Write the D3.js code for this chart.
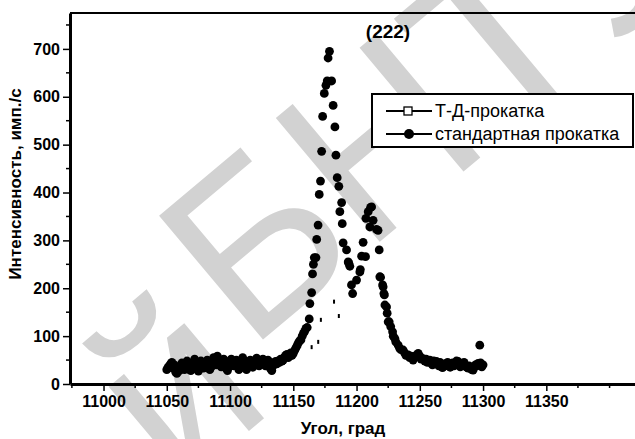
<!DOCTYPE html>
<html>
<head>
<meta charset="utf-8">
<script src="https://cdn.jsdelivr.net/npm/d3@7.9.0/dist/d3.min.js"></script>
<style>
  html, body { margin: 0; padding: 0; background: #fff; }
  svg { display: block; font-family: "Liberation Sans", Arial, sans-serif; }
</style>
</head>
<body>
<svg id="chart" width="635" height="439"></svg>
<script>
// standard rolling (filled circles)
const stdAngle = [
  11050,11051,11052,11053,11054,11055,11056,11057,11058,11059,
  11060,11061,11062,11063,11064,11065,11066,11067,11068,11069,
  11070,11071,11072,11073,11074,11075,11076,11077,11078,11079,
  11080,11081,11082,11083,11084,11085,11086,11087,11088,11089,
  11090,11091,11092,11093,11094,11095,11096,11097,11098,11099,
  11100,11101,11102,11103,11104,11105,11106,11107,11108,11109,
  11110,11111,11112,11113,11114,11115,11116,11117,11118,11119,
  11120,11121,11122,11123,11124,11125,11126,11127,11128,11129,
  11130,11131,11132,11133,11134,11135,11136,11137,11138,11139,
  11140,11141,11142,11143,11144,11145,11146,11147,11148,11149,
  11150,11151,11152,11153,11154,11155,11156,11157,11158,11159,
  11160,11161,11162.6,11163.1,11164.5,11165.2,11165.9,11166.6,11167.9,11168.5,
  11169.6,11170.5,11171.5,11172.4,11173.2,11174.5,11175.8,11176.8,11177.5,11178.6,
  11180.3,11181.5,11182.9,11183.7,11184.7,11186,11186.8,11188.2,11188.7,11189.4,
  11192.1,11193.4,11193.9,11194.7,11196,11196.9,11200,11202.6,11203,11204,
  11205.2,11207.1,11207.4,11209.2,11210.5,11211.1,11211.9,11213.1,11215.8,11217,
  11217.9,11218.4,11219,11220.6,11221,11221.6,11222,11222.4,11223.7,11224.2,
  11225,11225.8,11227,11228.5,11229,11230.3,11231,11232.9,11234,11235,
  11236.8,11238,11239,11240.8,11242,11243,11244.7,11246,11247,11248.7,
  11250,11251,11252.6,11254,11255,11256,11257.9,11259,11260,11261,
  11263.2,11264,11265,11266,11267.2,11268,11269,11270,11271.1,11272,
  11273,11274,11275.1,11276,11277,11278,11279,11280.3,11281,11282,
  11283,11284.2,11285,11286,11287,11288.2,11289,11290,11291,11292.1,
  11293,11294,11295,11296.1,11297.4,11298,11299,11300
];
const stdIntensity = [
  30,35,38,42,45,33,40,25,22,30,
  28,38,44,35,30,42,48,36,30,28,
  34,45,52,40,30,27,35,48,42,33,
  36,44,50,38,30,35,46,55,48,40,
  58,50,42,36,44,52,40,32,28,36,
  48,52,45,38,42,50,40,30,34,45,
  55,48,38,30,36,44,50,42,35,40,
  48,54,46,38,42,50,52,45,38,44,
  50,40,32,28,38,45,47,42,48,45,
  52,48,50,56,60,62,55,58,65,60,
  64,70,75,80,86,90,92,100,106,110,
  116,118,136,168,191,230,250,264,264,302,
  332,396,424,486,559,607,624,633,681,695,
  633,582,537,478,431,413,360,379,335,295,
  280,255,252,246,207,189,217,234,239,267,
  296,266,346,360,328,369,370,342,323,321,
  280,224,223,207,203,189,186,165,161,148,
  130,130,120,109,100,95,88,81,75,72,
  71,65,60,61,55,58,50,55,60,64,
  58,52,53,48,52,45,50,44,40,48,
  47,42,38,45,36,34,40,38,43,45,
  38,35,40,44,38,42,48,47,42,36,
  40,40,45,38,35,33,38,34,30,29,
  35,40,38,43,81,44,36,40
];
// T-D rolling (open squares, mostly hidden)
const tdAngle = [11164.5, 11169.7, 11171.8, 11182.2, 11186];
const tdIntensity = [77, 88, 134, 172, 142];

const xTicks = [11000, 11050, 11100, 11150, 11200, 11250, 11300, 11350];
const yTicks = [0, 100, 200, 300, 400, 500, 600, 700];
const legendLabels = ['Т-Д-прокатка', 'стандартная прокатка'];
const watermark = ['й', 'Б', 'Н', 'Т', 'У'];

const svg = d3.select('#chart');
const pl = 70, pr = 645, pt = 13, pb = 384;

const x = d3.scaleLinear().domain([10973.5, 11428]).range([pl, pr]);
const y = d3.scaleLinear().domain([0, 775]).range([pb, pt]);

// watermark behind everything
const wm = svg.append('g').attr('transform', 'translate(255,240) rotate(-40)');
const wmPos = [-157, 0, 160, 315, 470];
watermark.forEach((ch, i) => {
  wm.append('text').attr('x', wmPos[i]).attr('y', i === 0 ? 61 : 0)
    .attr('text-anchor', 'middle').attr('dominant-baseline', 'central')
    .attr('font-size', 235).attr('fill', '#d2d2d2').text(ch);
});

// frame top line
svg.append('line').attr('x1', pl).attr('x2', pr).attr('y1', pt).attr('y2', pt)
  .attr('stroke', '#000').attr('stroke-width', 2);

// x axis
const minorX = d3.range(10975, 11426, 25).filter(v => !xTicks.includes(v));
const gx = svg.append('g').attr('transform', `translate(0,${pb})`);
gx.selectAll('line.minor').data(minorX).join('line')
  .attr('x1', d => x(d)).attr('x2', d => x(d)).attr('y1', 0).attr('y2', 4)
  .attr('stroke', '#000').attr('stroke-width', 1.5);
gx.call(d3.axisBottom(x).tickValues(xTicks).tickSize(7).tickSizeOuter(0).tickPadding(5).tickFormat(d3.format('d')));
gx.select('.domain').attr('stroke-width', 3);
gx.selectAll('.tick line').attr('stroke-width', 1.5);
gx.selectAll('.tick text').attr('font-size', 16).attr('font-weight', 'bold')
  .attr('font-family', '"Liberation Sans", Arial, sans-serif').attr('fill', '#000');

// y axis
const minorY = d3.range(50, 775, 100);
const gy = svg.append('g').attr('transform', `translate(${pl},0)`);
gy.selectAll('line.minor').data(minorY).join('line')
  .attr('x1', 0).attr('x2', -4).attr('y1', d => y(d)).attr('y2', d => y(d))
  .attr('stroke', '#000').attr('stroke-width', 1.5);
gy.call(d3.axisLeft(y).tickValues(yTicks).tickSize(7).tickSizeOuter(0).tickPadding(3));
gy.select('.domain').attr('stroke-width', 3);
gy.selectAll('.tick line').attr('stroke-width', 1.5);
gy.selectAll('.tick text').attr('font-size', 16).attr('font-weight', 'bold')
  .attr('font-family', '"Liberation Sans", Arial, sans-serif').attr('fill', '#000');

// axis titles
svg.append('text').attr('x', 343).attr('y', 434).attr('text-anchor', 'middle')
  .attr('font-size', 17).attr('font-weight', 'bold').text('Угол, град');
svg.append('text').attr('transform', 'translate(21,184) rotate(-90)').attr('text-anchor', 'middle')
  .attr('font-size', 17).attr('font-weight', 'bold').text('Интенсивность, имп./с');
svg.append('text').attr('x', 388).attr('y', 38).attr('text-anchor', 'middle')
  .attr('font-size', 19).attr('font-weight', 'bold').text('(222)');

// data
const tdData = tdAngle.map((a, i) => ({ a, v: tdIntensity[i] }));
svg.append('g').selectAll('rect').data(tdData).join('rect')
  .attr('x', d => x(d.a) - 1).attr('y', d => y(d.v) - 2).attr('width', 2).attr('height', 4)
  .attr('fill', '#000');

const stdData = stdAngle.map((a, i) => ({ a, v: stdIntensity[i] }));
svg.append('g').selectAll('circle').data(stdData).join('circle')
  .attr('cx', d => x(d.a)).attr('cy', d => y(d.v)).attr('r', 4.4).attr('fill', '#000');

// legend
const lg = svg.append('g').attr('transform', 'translate(372,94)');
lg.append('rect').attr('width', 261).attr('height', 53).attr('fill', '#fff')
  .attr('stroke', '#000').attr('stroke-width', 2);
legendLabels.forEach((t, i) => {
  const yy = 17 + i * 23;
  lg.append('line').attr('x1', 14).attr('x2', 60).attr('y1', yy).attr('y2', yy)
    .attr('stroke', '#000').attr('stroke-width', 2);
  if (i === 0) {
    lg.append('rect').attr('x', 32).attr('y', yy - 4).attr('width', 8).attr('height', 8)
      .attr('fill', '#fff').attr('stroke', '#000').attr('stroke-width', 1.3);
  } else {
    lg.append('circle').attr('cx', 37).attr('cy', yy).attr('r', 5).attr('fill', '#000');
  }
  lg.append('text').attr('x', 63).attr('y', yy + 6).attr('font-size', 18).text(t);
});
</script>
</body>
</html>
